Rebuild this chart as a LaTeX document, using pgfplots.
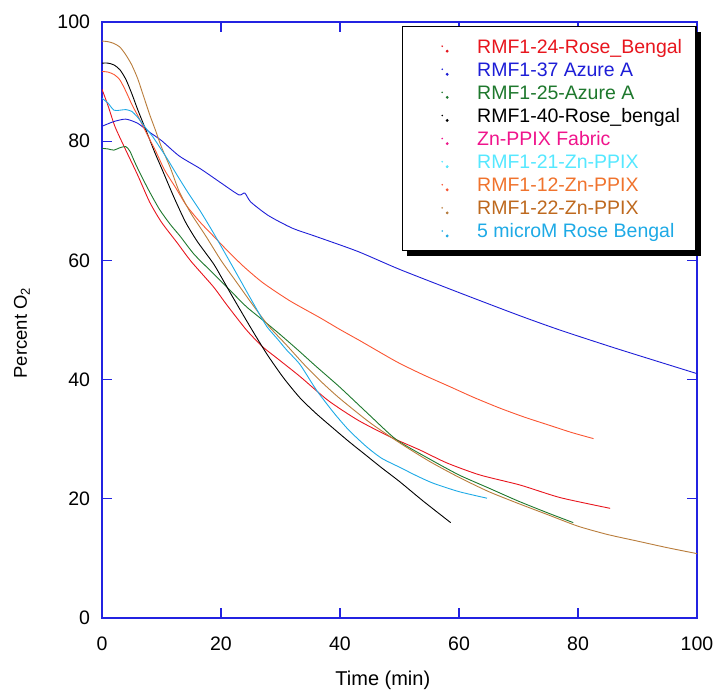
\documentclass[border=0pt]{standalone}
\usepackage{fontspec}
\setmainfont{Liberation Sans}
\usepackage{pgfplots}
\pgfplotsset{compat=1.18}
\usetikzlibrary{shadows}
\definecolor{cAxis}{RGB}{35,35,225}
\definecolor{cRed}{RGB}{232,22,30}
\definecolor{cBlue}{RGB}{30,30,215}
\definecolor{cGreen}{RGB}{30,120,45}
\definecolor{cPink}{RGB}{240,20,140}
\definecolor{cCyan}{RGB}{85,232,255}
\definecolor{cOrange}{RGB}{240,115,45}
\definecolor{cOrangeLine}{RGB}{250,85,50}
\definecolor{cBrown}{RGB}{190,105,30}
\definecolor{cBrownLine}{RGB}{185,125,60}
\definecolor{cSky}{RGB}{30,170,230}
\pgfplotsset{dotlegend/.style={legend image code/.code={%
  \pgfpathmoveto{\pgfpoint{0pt}{0pt}}\pgfpathlineto{\pgfpoint{61pt}{0pt}}\pgfusepath{}%
  \fill[draw=none] (28pt,0pt) circle (0.9pt);}}}
\begin{document}
\begin{tikzpicture}
\useasboundingbox (0,0) rectangle (715pt,690pt);
\begin{axis}[
  at={(102pt,72pt)}, anchor=south west,
  scale only axis, width=595pt, height=596pt,
  xmin=0, xmax=100, ymin=0, ymax=100,
  xtick={0,20,...,100}, ytick={0,20,...,100},
  tick align=inside, major tick length=10pt,
  axis line style={cAxis, line width=1.3pt},
  every tick/.style={cAxis, line width=1.1pt},
  /pgf/number format/assume math mode=true,
  ticklabel style={font=\fontsize{19.5}{23}\selectfont, text=black},
  xticklabel style={yshift=-15.5pt},
  yticklabel style={xshift=-8.5pt},
  xlabel={Time (min)},
  ylabel={Percent O\textsubscript{2}},
  xlabel style={at={(axis description cs:0.472,-0.104)}, anchor=center, font=\fontsize{20}{24}\selectfont},
  ylabel style={at={(axis description cs:-0.1345,0.478)}, anchor=center, font=\fontsize{18.5}{22}\selectfont},
  legend style={at={(axis description cs:0.9995,0.9933)}, anchor=north east,
    draw=black, line width=1.3pt, fill=white, inner xsep=12pt, inner ysep=8pt,
    font=\fontsize{19.5}{23}\selectfont,
    nodes={inner xsep=2pt, inner ysep=1.55pt, text height=17pt, text depth=3pt},
    drop shadow={shadow xshift=5pt, shadow yshift=-5pt, fill=black, opacity=1}},
  legend cell align=left,
  dotlegend,
  every axis plot/.append style={line width=0.9pt, mark=none, smooth, tension=0.4, dotlegend},
]
% RMF1-24-Rose_Bengal
\addplot[color=cRed] coordinates {
(0,88.7) (1,86) (2.2,82.4) (4,78.5) (6,74.3) (8,69.8) (10,66.4) (12.6,63) (15,59.8) (18.7,55.6)
(21,52.5) (24.3,48.3) (27,45.5) (29.4,43.6) (33.3,40.5) (38,36.5) (43,33.2) (48.4,30.4)
(53.4,28.2) (58,26) (63.5,24) (70.3,22.3) (77,20.2) (85.4,18.4)};
\addlegendentry{\textcolor{cRed}{RMF1-24-Rose\_Bengal}}
% RMF1-37 Azure A
\addplot[color=cBlue] coordinates {
(0,82.5) (2,83.3) (4,83.7) (6,83) (8,81.5) (10,80.1) (13,77.5) (16.5,75.4) (20,73) (23,71)
(24,71.3) (25,69.8) (28,67.5) (32,65.4) (36,64) (43,61.5) (50,58.5) (60,54.6) (70,50.8)
(77,48.3) (86.5,45.2) (100,41)};
\addlegendentry{\textcolor{cBlue}{RMF1-37 Azure A}}
% RMF1-25-Azure A
\addplot[color=cGreen] coordinates {
(0,78.8) (1,78.7) (2,78.5) (3,78.9) (4,79.1) (4.7,78.3) (5.5,76.5) (6.4,74.6) (8,71.5) (9.7,68.5)
(11.5,66) (13.1,64.1) (15.5,61) (18.7,57.8) (21.5,55) (24.3,52.2) (27,50) (29.9,47.6) (33,44.9)
(36,42.2) (40,38.7) (45,34) (49.5,29.9) (55,26.7) (60,24) (65,21.8) (70,19.6) (75,17.6) (79.2,16)};
\addlegendentry{\textcolor{cGreen}{RMF1-25-Azure A}}
% RMF1-40-Rose_bengal
\addplot[color=black] coordinates {
(0,93.1) (1,93.1) (2,92.8) (3,92) (4,90.4) (5,88) (6,85.3) (7,82.8) (8,80.3) (9,77.8) (10,75.5)
(12,70.8) (14,66.5) (16,63.2) (18.7,59.5) (20,57.3) (22,53.8) (25,48.7) (27.7,44.3) (30.5,40.3)
(33.3,36.9) (36,34.3) (38.9,31.8) (41.5,29.6) (44.5,27.2) (47,25.2) (50,22.9) (54,19.6) (58.6,16)};
\addlegendentry{\textcolor{black}{RMF1-40-Rose\_bengal}}
% Zn-PPIX Fabric
\addlegendimage{color=cPink, dotlegend}
\addlegendentry{\textcolor{cPink}{Zn-PPIX Fabric}}
% RMF1-21-Zn-PPIX
\addlegendimage{color=cCyan, dotlegend}
\addlegendentry{\textcolor{cCyan}{RMF1-21-Zn-PPIX}}
% RMF1-12-Zn-PPIX
\addplot[color=cOrangeLine] coordinates {
(0,91.7) (1,91.6) (2,91.2) (3,90.3) (4,88.4) (5,86.2) (6,84.3) (7,82.3) (8,80.3) (9,78.4)
(10.5,75.2) (12.5,72) (14.2,69.2) (16.5,66.4) (19,63.8) (21.5,61.2) (24,58.8) (27.1,56.2)
(31.6,53.2) (36.6,50.4) (40,48.4) (43.4,46.5) (49.5,43) (54,40.8) (58.5,38.8) (62.5,37)
(66.9,35.2) (71,33.7) (75.3,32.3) (79,31.1) (82.6,30.1)};
\addlegendentry{\textcolor{cOrange}{RMF1-12-Zn-PPIX}}
% RMF1-22-Zn-PPIX
\addplot[color=cBrownLine] coordinates {
(0,96.8) (1,96.7) (2,96.4) (3,95.8) (4,94.5) (5,92.8) (6,90.5) (7,87.5) (8,84.5) (9,81.8)
(10,79) (11.5,75.5) (13,71.5) (15,67.8) (17.5,64) (20,60) (22.5,56.5) (25,53) (28,49) (31,45.8)
(34,42.5) (37,39.5) (40,36.8) (45,32.8) (50,29.4) (55,26.3) (60,23.6) (65,21.2) (70,19.2)
(75,17.3) (80,15.4) (85,14) (90,12.9) (95,11.8) (100,10.8)};
\addlegendentry{\textcolor{cBrown}{RMF1-22-Zn-PPIX}}
% 5 microM Rose Bengal
\addplot[color=cSky] coordinates {
(0,87.2) (1,86.4) (2,85.2) (3,85.2) (4,85.3) (5,85) (6,84) (7.2,82.4) (8.5,80.8) (9.5,79.3)
(11,77) (12.5,74.5) (14.5,71.3) (16.5,68.3) (18.5,65) (20.4,61.7) (22.5,58) (24.3,54.8)
(26,51.8) (27.7,48.9) (29.5,46.8) (31,45) (33.3,42.5) (36,38.3) (38.9,34.5) (41.5,31.5)
(44.5,28.7) (47,26.8) (50,25.3) (53,23.8) (55.7,22.6) (60,21.2) (64.7,20.1)};
\addlegendentry{\textcolor{cSky}{5 microM Rose Bengal}}
\end{axis}
\end{tikzpicture}
\end{document}
